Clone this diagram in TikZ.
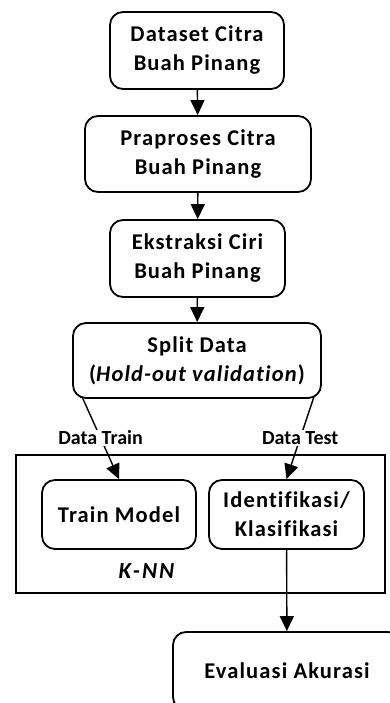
\documentclass[tikz,border=0pt]{standalone}
\usepackage{fontspec}
\setmainfont[Ligatures=NoCommon]{Carlito}
\newfontfamily\boxfont[LetterSpace=5,Ligatures=NoCommon]{Carlito}
\newfontfamily\knnfont[LetterSpace=9,Ligatures=NoCommon]{Carlito}
\usetikzlibrary{arrows.meta}
\begin{document}
\begin{tikzpicture}[x=1pt,y=1pt,
  box/.style={draw,line width=1.8pt,rounded corners=13pt,align=center,font=\boxfont\bfseries\fontsize{22.5}{29}\selectfont,inner sep=0pt},
  arr/.style={line width=1.4pt,-{Triangle[width=14pt,length=15pt]}},
  lbl/.style={font=\bfseries\fontsize{20}{22}\selectfont,fill=white,inner sep=1pt}]
\useasboundingbox (0,0) rectangle (390,-703);
\begin{scope}
\clip (0,0) rectangle (390,-703);
\node[box,minimum width=174pt,minimum height=77pt] (d) at (197,-50.5) {Dataset Citra\\Buah Pinang};
\node[box,minimum width=226pt,minimum height=76pt] (p) at (198,-154) {Praproses Citra\\Buah Pinang};
\node[box,minimum width=175pt,minimum height=77pt] (e) at (197.5,-258.5) {Ekstraksi Ciri\\Buah Pinang};
\node[box,minimum width=248pt,minimum height=75pt] (s) at (197,-360.5) {Split Data\\(\textit{Hold-out validation})};
\node[draw,line width=1.8pt,minimum width=369pt,minimum height=138pt,inner sep=0pt] (k) at (200.5,-524) {};
\node[box,minimum width=154pt,minimum height=69pt] (t) at (119,-514.5) {Train Model};
\node[box,minimum width=155pt,minimum height=69pt] (i) at (286.5,-514.5) {Identifikasi/\\Klasifikasi};
\node[font=\knnfont\bfseries\itshape\fontsize{23}{25}\selectfont] (kl) at (146.5,-571) {K-NN};
\node[box,minimum width=228pt,minimum height=78pt] (v) at (287,-671) {Evaluasi Akurasi};
\coordinate (sl) at ([xshift=10pt,yshift=2pt]s.south west);
\coordinate (sr) at ([xshift=-8pt,yshift=2pt]s.south east);
\draw[arr] (d) -- (p);
\draw[arr] (p) -- (e);
\draw[arr] (e) -- (s);
\draw[arr] (sl) -- node[lbl] (lt) {Data Train} (t.north);
\draw[arr] (sr) -- node[lbl] (lte) {Data Test} (i.north);
\draw[arr] (i) -- (v);
\end{scope}
\end{tikzpicture}
\end{document}
